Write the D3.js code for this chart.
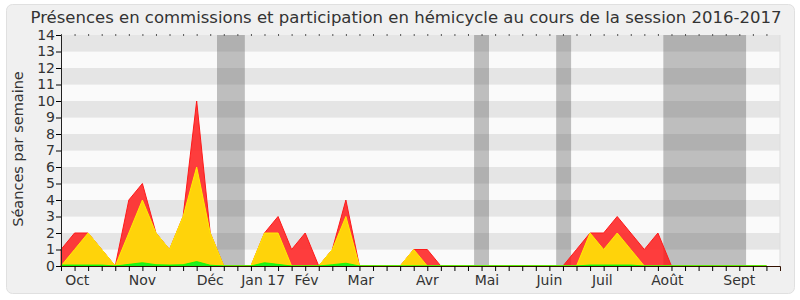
<!DOCTYPE html>
<html>
<head>
<meta charset="utf-8">
<script src="https://cdn.jsdelivr.net/npm/d3@7"></script>
<style>
  body { margin: 0; background: #fff; }
  text { font-family: "DejaVu Sans", sans-serif; fill: #333; }
</style>
</head>
<body>
<div id="chart"></div>
<script>
var width = 800;
var height = 300;

// semaines de la session (index 0 = fin septembre 2016)
var weeks = d3.range(0, 53);
var hemicycle = [1, 2, 2, 1, 0, 4, 5, 2, 1, 3, 10, 2, 0, 0, 0, 2, 3, 1, 2, 0, 1, 4, 0, 0, 0, 0, 1, 1, 0, 0,
                 0, 0, 0, 0, 0, 0, 0, 0, 1, 2, 2, 3, 2, 1, 2, 0, 0, 0, 0, 0, 0, 0, 0];
var commissions = [0, 1, 2, 1, 0, 2, 4, 2, 1, 3, 6, 2, 0, 0, 0, 2, 2, 0, 0, 0, 1, 3, 0, 0, 0, 0, 1, 0, 0, 0,
                   0, 0, 0, 0, 0, 0, 0, 0, 0, 2, 1, 2, 1, 0, 0, 0, 0, 0, 0, 0, 0, 0, 0];
var interventions = [0.06, 0.06, 0.06, 0.06, 0, 0.1, 0.2, 0.08, 0.06, 0.08, 0.27, 0.05, 0, 0, 0, 0.2, 0.1, 0, 0, 0,
                     0.08, 0.17, 0, 0, 0, 0, 0, 0, 0, 0, 0, 0, 0, 0, 0, 0, 0, 0, 0, 0.06, 0.06, 0.06, 0.06, 0,
                     0, 0, 0, 0, 0, 0, 0, 0, 0];
// vacances parlementaires (en semaines)
var vacances = [[11.5, 13.55], [30.45, 31.55], [36.5, 37.6], [44.4, 50.5]];
var monthNames = ["Oct", "Nov", "Déc", "Jan 17", "Fév", "Mar", "Avr", "Mai", "Juin", "Juil", "Août", "Sept"];
var monthPos = [1.2, 6.0, 11.0, 14.9, 18.1, 22.1, 27.0, 31.4, 36.0, 39.9, 44.7, 50.0];
var yTicks = d3.range(0, 15);

var svg = d3.select('#chart')
    .append('svg')
    .attr('width', width)
    .attr('height', height);

svg.append('rect')
    .attr('x', 6.5).attr('y', 4.5)
    .attr('width', 788).attr('height', 289)
    .attr('rx', 6)
    .attr('fill', '#f0f0f0')
    .attr('stroke', '#e0e0e0');

var x = d3.scaleLinear().domain([0, 53]).range([61, 780]);
var y = d3.scaleLinear().domain([0, 14]).range([266, 35]);

// bandes horizontales
svg.selectAll('rect.stripe')
    .data(d3.range(0, 14))
    .enter().append('rect')
    .attr('class', 'stripe')
    .attr('x', x(0))
    .attr('width', x(53) - x(0))
    .attr('y', function(d) { return y(d + 1); })
    .attr('height', function(d) { return y(d) - y(d + 1); })
    .attr('fill', function(d) { return d % 2 ? '#e5e5e5' : '#fafafa'; });

svg.selectAll('rect.vac')
    .data(vacances)
    .enter().append('rect')
    .attr('class', 'vac')
    .attr('x', function(d) { return x(d[0]); })
    .attr('width', function(d) { return x(d[1]) - x(d[0]); })
    .attr('y', y(14))
    .attr('height', y(0) - y(14))
    .attr('fill', 'rgba(70,70,70,0.33)');

function area(values) {
    return d3.area()
        .x(function(d, i) { return x(weeks[i]); })
        .y0(y(0))
        .y1(function(d) { return y(d); })(values);
}

svg.append('path')
    .attr('d', area(hemicycle))
    .attr('fill', 'rgba(255,20,20,0.82)')
    .attr('stroke', '#ff1a1a')
    .attr('stroke-width', 1);
svg.append('path')
    .attr('d', area(commissions))
    .attr('fill', '#ffd30a')
    .attr('stroke', '#ffee00')
    .attr('stroke-width', 1);
svg.append('path')
    .attr('d', area(interventions))
    .attr('fill', '#22ee22')
    .attr('stroke', '#00ff00')
    .attr('stroke-width', 0.8);

// axes
var xAxis = d3.axisBottom(x).tickValues(weeks).tickSize(5).tickFormat('');
svg.append('g')
    .attr('transform', 'translate(0,' + y(0) + ')')
    .call(xAxis)
    .call(function(g) { g.select('.domain').attr('stroke', '#331100'); });

var xTop = d3.axisTop(x).tickValues(weeks).tickSize(2).tickFormat('');
svg.append('g')
    .attr('transform', 'translate(0,' + (y(14) + 1) + ')')
    .call(xTop)
    .call(function(g) { g.select('.domain').remove(); g.selectAll('line').attr('stroke', '#555'); });

var yAxis = d3.axisLeft(y).tickValues(yTicks).tickSize(5).tickSizeOuter(0);
var gy = svg.append('g')
    .attr('transform', 'translate(' + x(0) + ',0)')
    .call(yAxis);
gy.selectAll('text')
    .style('font-size', '14px')
    .style('font-family', '"DejaVu Sans", sans-serif')
    .attr('fill', '#333')
    .attr('x', -6);
gy.select('.domain').attr('stroke', '#222');

svg.append('line')
    .attr('x1', x(53)).attr('x2', x(53))
    .attr('y1', y(14)).attr('y2', y(0))
    .attr('stroke', '#ddd');

svg.selectAll('text.month')
    .data(monthNames)
    .enter().append('text')
    .attr('class', 'month')
    .attr('x', function(d, i) { return x(monthPos[i]); })
    .attr('y', 285)
    .attr('text-anchor', 'middle')
    .style('font-size', '14px')
    .text(function(d) { return d; });

svg.append('text')
    .attr('transform', 'translate(23,149) rotate(-90)')
    .attr('text-anchor', 'middle')
    .style('font-size', '14.5px')
    .text('Séances par semaine');

svg.append('text')
    .attr('x', 406)
    .attr('y', 23)
    .attr('text-anchor', 'middle')
    .style('font-size', '16.5px')
    .text('Présences en commissions et participation en hémicycle au cours de la session 2016-2017');
</script>
</body>
</html>
